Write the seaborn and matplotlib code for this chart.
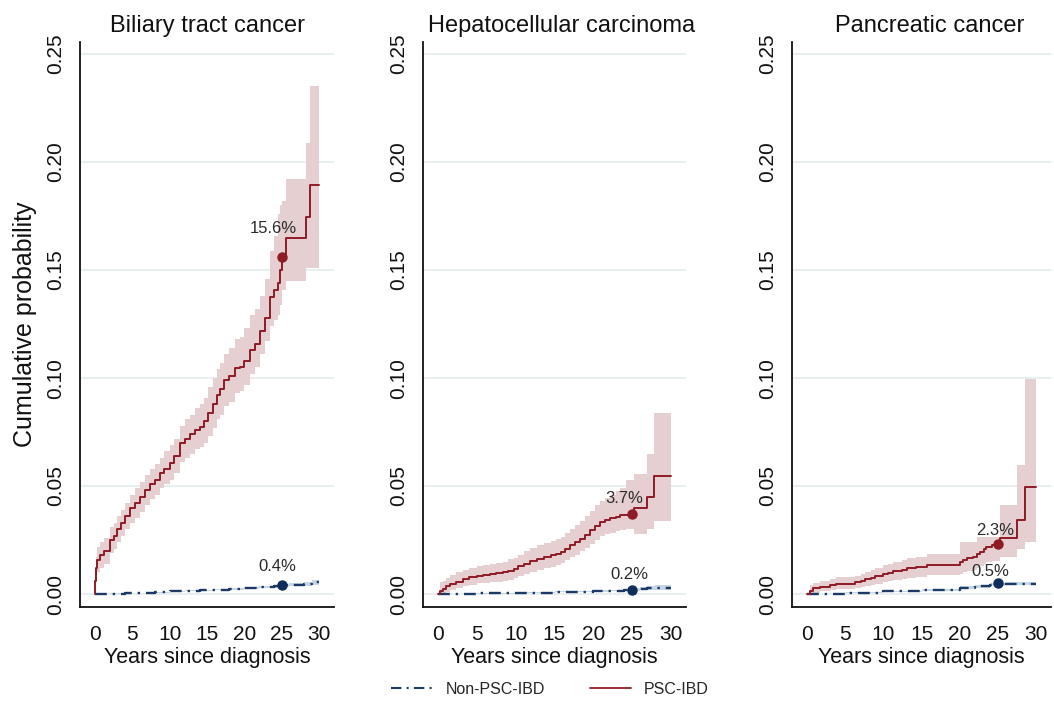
import matplotlib
matplotlib.use("Agg")
import matplotlib.pyplot as plt
from matplotlib.lines import Line2D
import numpy as np
import pandas as pd
import seaborn as sns

# ---------------- data ----------------
titles = ["Biliary tract cancer", "Hepatocellular carcinoma", "Pancreatic cancer"]

# Panel 1: Biliary tract cancer
bil_psc_t = [0, 0.05, 0.15, 0.3, 0.7, 1.2, 2.0, 2.5, 3.0, 3.5, 4.0, 4.7, 5.3, 6.0, 6.7, 7.4, 8.0,
             8.7, 9.3, 10.0, 10.6, 11.4, 12.0, 12.7, 13.4, 14.0, 14.6, 15.2, 15.8, 16.3, 16.7,
             17.3, 17.9, 18.7, 19.4, 20.0, 20.7, 21.4, 22.1, 22.7, 23.4, 24.0, 24.5, 24.8, 25.0,
             25.6, 28.2, 28.8, 30.0]
bil_psc_est = [0.0, 0.006, 0.012, 0.0157, 0.018, 0.020, 0.025, 0.027, 0.030, 0.033, 0.036, 0.040,
               0.042, 0.045, 0.048, 0.051, 0.053, 0.056, 0.058, 0.0606, 0.064, 0.0698, 0.072, 0.074,
               0.076, 0.0775, 0.080, 0.084, 0.088, 0.092, 0.095, 0.099, 0.101, 0.1045, 0.105, 0.108,
               0.113, 0.116, 0.122, 0.128, 0.1376, 0.141, 0.144, 0.150, 0.156, 0.1648, 0.1747,
               0.1894, 0.1894]
bil_psc_lo = [0.0, 0.002, 0.007, 0.010, 0.012, 0.014, 0.019, 0.021, 0.024, 0.027, 0.030, 0.033,
              0.035, 0.038, 0.041, 0.044, 0.046, 0.049, 0.051, 0.053, 0.056, 0.061, 0.063, 0.065,
              0.067, 0.068, 0.070, 0.073, 0.077, 0.081, 0.083, 0.087, 0.089, 0.093, 0.094, 0.097,
              0.102, 0.105, 0.111, 0.117, 0.124, 0.127, 0.129, 0.134, 0.141, 0.145, 0.151, 0.151,
              0.151]
bil_psc_hi = [0.0, 0.010, 0.017, 0.022, 0.024, 0.026, 0.031, 0.033, 0.036, 0.039, 0.042, 0.046,
              0.049, 0.052, 0.055, 0.058, 0.060, 0.063, 0.066, 0.069, 0.072, 0.078, 0.081, 0.083,
              0.086, 0.088, 0.091, 0.096, 0.100, 0.104, 0.107, 0.111, 0.114, 0.118, 0.119, 0.123,
              0.129, 0.132, 0.138, 0.146, 0.159, 0.166, 0.176, 0.180, 0.182, 0.192, 0.209, 0.235,
              0.235]
bil_non_t = [0, 2, 4, 6, 8, 10, 12, 14, 16, 18, 20, 22, 24, 25, 26, 28, 29, 30]
bil_non_est = [0.0, 0.0002, 0.0004, 0.0006, 0.0009, 0.0012, 0.0015, 0.0018, 0.0021, 0.0024,
               0.0027, 0.0031, 0.0036, 0.0040, 0.0043, 0.0048, 0.0054, 0.0054]
bil_non_lo = [0.0, 0.0001, 0.0003, 0.0005, 0.0007, 0.0010, 0.0012, 0.0015, 0.0018, 0.0020,
              0.0023, 0.0026, 0.0030, 0.0033, 0.0035, 0.0039, 0.0043, 0.0043]
bil_non_hi = [0.0, 0.0003, 0.0005, 0.0007, 0.0011, 0.0014, 0.0018, 0.0021, 0.0024, 0.0028,
              0.0031, 0.0036, 0.0042, 0.0047, 0.0051, 0.0057, 0.0066, 0.0066]

# Panel 2: Hepatocellular carcinoma
hcc_psc_t = [0, 0.2, 0.6, 1.0, 1.5, 2.3, 3.2, 4.0, 5.0, 5.8, 6.7, 7.5, 8.4, 9.0, 9.7, 10.3, 11.0,
             11.8, 12.7, 13.6, 14.5, 15.2, 15.8, 16.4, 17.0, 17.6, 18.3, 19.0, 19.6, 20.3, 20.9,
             21.5, 22.2, 23.0, 23.5, 24.3, 25.3, 27.0, 27.8, 30.0]
hcc_psc_est = [0.0, 0.0016, 0.0023, 0.0035, 0.0047, 0.0058, 0.0070, 0.0078, 0.0085, 0.0090,
               0.0093, 0.0097, 0.0100, 0.0108, 0.0116, 0.0128, 0.0140, 0.0152, 0.0163, 0.0171,
               0.0179, 0.0186, 0.0194, 0.0210, 0.0225, 0.0240, 0.0256, 0.0275, 0.0295, 0.0315,
               0.0334, 0.0342, 0.0350, 0.0358, 0.0365, 0.0368, 0.0400, 0.0450, 0.0547, 0.0547]
hcc_psc_lo = [0.0, 0.0002, 0.0005, 0.0010, 0.0018, 0.0027, 0.0036, 0.0043, 0.0049, 0.0053,
              0.0055, 0.0058, 0.0060, 0.0066, 0.0073, 0.0083, 0.0094, 0.0104, 0.0113, 0.0120,
              0.0127, 0.0133, 0.0142, 0.0156, 0.0170, 0.0183, 0.0198, 0.0215, 0.0233, 0.0252,
              0.0270, 0.0277, 0.0284, 0.0292, 0.0298, 0.0300, 0.0280, 0.0300, 0.0340, 0.0340]
hcc_psc_hi = [0.0, 0.0055, 0.0062, 0.0076, 0.0088, 0.0100, 0.0113, 0.0122, 0.0130, 0.0136,
              0.0140, 0.0145, 0.0150, 0.0160, 0.0169, 0.0183, 0.0198, 0.0212, 0.0225, 0.0235,
              0.0245, 0.0254, 0.0264, 0.0283, 0.0300, 0.0318, 0.0338, 0.0361, 0.0385, 0.0410,
              0.0432, 0.0445, 0.0460, 0.0478, 0.0492, 0.0530, 0.0556, 0.0650, 0.0840, 0.0840]
hcc_non_t = [0, 5, 10, 15, 20, 22, 24, 25, 26, 27, 28, 30]
hcc_non_est = [0.0, 0.0003, 0.0006, 0.0010, 0.0014, 0.0016, 0.0018, 0.0020, 0.0024, 0.0028,
               0.0030, 0.0030]
hcc_non_lo = [0.0, 0.0002, 0.0004, 0.0008, 0.0011, 0.0012, 0.0014, 0.0015, 0.0018, 0.0020,
              0.0018, 0.0018]
hcc_non_hi = [0.0, 0.0004, 0.0008, 0.0012, 0.0017, 0.0020, 0.0023, 0.0026, 0.0031, 0.0036,
              0.0040, 0.0040]

# Panel 3: Pancreatic cancer
pan_psc_t = [0, 0.3, 0.7, 1.7, 3.0, 3.8, 6.3, 7.0, 7.6, 8.4, 8.9, 10.0, 10.6, 11.3, 12.4, 13.1,
             14.3, 15.7, 20.0, 20.4, 21.0, 21.8, 22.3, 22.7, 23.2, 23.5, 24.2, 25.0, 25.3, 27.5,
             28.6, 30.0]
pan_psc_est = [0.0, 0.0015, 0.0026, 0.0034, 0.0042, 0.0048, 0.0055, 0.0060, 0.0068, 0.0075,
               0.0083, 0.0093, 0.0098, 0.0105, 0.0112, 0.0119, 0.0123, 0.0134, 0.0148, 0.0157,
               0.0165, 0.0173, 0.0185, 0.0196, 0.0208, 0.0220, 0.0228, 0.0231, 0.0258, 0.0343,
               0.0494, 0.0494]
pan_psc_lo = [0.0, 0.0002, 0.0007, 0.0012, 0.0018, 0.0022, 0.0027, 0.0031, 0.0037, 0.0042,
              0.0048, 0.0056, 0.0060, 0.0065, 0.0070, 0.0076, 0.0079, 0.0087, 0.0095, 0.0101,
              0.0107, 0.0113, 0.0122, 0.0130, 0.0139, 0.0148, 0.0153, 0.0155, 0.0170, 0.0210,
              0.0240, 0.0240]
pan_psc_hi = [0.0, 0.0040, 0.0052, 0.0060, 0.0070, 0.0077, 0.0085, 0.0092, 0.0102, 0.0111,
              0.0121, 0.0133, 0.0139, 0.0147, 0.0156, 0.0165, 0.0170, 0.0184, 0.0242, 0.0242,
              0.0242, 0.0242, 0.0265, 0.0265, 0.0265, 0.0265, 0.0265, 0.0265, 0.0410, 0.0597,
              0.0994, 0.0994]
pan_non_t = [0, 5, 10, 15, 20, 22, 24, 25, 26, 30]
pan_non_est = [0.0, 0.0006, 0.0012, 0.0020, 0.0030, 0.0036, 0.0042, 0.0045, 0.0048, 0.0048]
pan_non_lo = [0.0, 0.0004, 0.0009, 0.0016, 0.0025, 0.0030, 0.0035, 0.0038, 0.0040, 0.0040]
pan_non_hi = [0.0, 0.0008, 0.0015, 0.0024, 0.0035, 0.0042, 0.0049, 0.0052, 0.0056, 0.0056]

# 25-year estimates shown as dots with labels
mark_year = 25
psc_25 = [0.156, 0.037, 0.023]
non_25 = [0.004, 0.002, 0.005]
psc_25_lab = ["15.6%", "3.7%", "2.3%"]
non_25_lab = ["0.4%", "0.2%", "0.5%"]

yticks = [0.00, 0.05, 0.10, 0.15, 0.20, 0.25]
xticks = [0, 5, 10, 15, 20, 25, 30]
group_names = ["Non-PSC-IBD", "PSC-IBD"]

# ---------------- style ----------------
sns.set_theme(style="white")
plt.rcParams["font.family"] = ["Liberation Sans", "DejaVu Sans"]

RED = "#8e1b25"
RED_BAND = "#e5cfd0"
BLUE = "#1d3a66"
BLUE_BAND = "#c6d6e6"
GRID = "#e3eced"

fig = plt.figure(figsize=(10.54, 7.04), dpi=100)
W, H = 1054.0, 704.0
ax_px = [(80, 254), (423, 263), (792, 259)]
top_px, bot_px = 42, 607
title_x = [0.5, 0.525, 0.533]
psc_off = [(-8, 24), (-8, 11), (-3, 9)]
non_off = [(-4, 14), (-2, 11), (-7, 7)]

panels = [
    (bil_psc_t, bil_psc_est, bil_psc_lo, bil_psc_hi, bil_non_t, bil_non_est, bil_non_lo, bil_non_hi),
    (hcc_psc_t, hcc_psc_est, hcc_psc_lo, hcc_psc_hi, hcc_non_t, hcc_non_est, hcc_non_lo, hcc_non_hi),
    (pan_psc_t, pan_psc_est, pan_psc_lo, pan_psc_hi, pan_non_t, pan_non_est, pan_non_lo, pan_non_hi),
]

for i, (pt, pe, pl, ph, nt, ne, nl, nh) in enumerate(panels):
    left, width = ax_px[i]
    ax = fig.add_axes([left / W, 1 - bot_px / H, width / W, (bot_px - top_px) / H])

    ax.set_xlim(-2, 32)
    ax.set_ylim(-0.006, 0.2556)
    ax.set_yticks(yticks)
    ax.set_xticks(xticks)
    ax.yaxis.grid(True, color=GRID, lw=1.2, zorder=0)
    ax.xaxis.grid(False)
    ax.set_axisbelow(True)

    # confidence bands
    ax.fill_between(pt, pl, ph, step="post", color=RED_BAND, lw=0, zorder=1)
    ax.fill_between(nt, nl, nh, step="post", color=BLUE_BAND, lw=0, zorder=1.5)

    dpsc = pd.DataFrame({"t": pt, "est": pe})
    dnon = pd.DataFrame({"t": nt, "est": ne})
    sns.lineplot(data=dnon, x="t", y="est", ax=ax, color=BLUE, lw=1.7,
                 linestyle=(0, (5, 2.5, 1, 2.5)), drawstyle="steps-post",
                 estimator=None, sort=False, zorder=3)
    sns.lineplot(data=dpsc, x="t", y="est", ax=ax, color=RED, lw=1.4,
                 drawstyle="steps-post", estimator=None, sort=False, zorder=4)

    # 25-year dots
    ax.plot([mark_year], [psc_25[i]], "o", color=RED, ms=6.5, zorder=5)
    ax.plot([mark_year], [non_25[i]], "o", color="#0f2b5a", ms=6.5, zorder=5)
    ax.annotate(psc_25_lab[i], (mark_year, psc_25[i]), xytext=psc_off[i],
                textcoords="offset pixels", ha="center", va="baseline",
                fontsize=12, color="#2b2b2b", zorder=6)
    ax.annotate(non_25_lab[i], (mark_year, non_25[i]), xytext=non_off[i],
                textcoords="offset pixels", ha="center", va="baseline",
                fontsize=12, color="#2b2b2b", zorder=6)

    ax.yaxis.set_major_formatter(matplotlib.ticker.FormatStrFormatter("%.2f"))
    for s in ["top", "right"]:
        ax.spines[s].set_visible(False)
    for s in ["left", "bottom"]:
        ax.spines[s].set_color("#111111")
        ax.spines[s].set_linewidth(1.3)
    ax.tick_params(axis="both", direction="out", length=6, width=1.2, color="#111111",
                   labelsize=15, labelcolor="#111111")
    ax.tick_params(axis="x", pad=7)
    ax.tick_params(axis="y", pad=5)
    for lab in ax.get_yticklabels():
        lab.set_rotation(90)
        lab.set_va("center")

    ax.set_title(titles[i], fontsize=17, pad=7, x=title_x[i], color="#111111")
    ax.set_xlabel("Years since diagnosis", fontsize=15.5, labelpad=2, color="#111111")
    if i == 0:
        ax.set_ylabel("Cumulative probability", fontsize=18, labelpad=6, color="#111111")
    else:
        ax.set_ylabel("")

handles = [
    Line2D([0], [0], color=BLUE, lw=1.5, linestyle=(0, (5, 2.5, 1, 2.5))),
    Line2D([0], [0], color=RED, lw=1.3),
]
fig.legend(handles, group_names, loc="center", bbox_to_anchor=(550 / W, 1 - 689 / H),
           ncol=2, frameon=False, fontsize=11.5, handlelength=2.6, columnspacing=2.8,
           handletextpad=0.8)

fig.savefig("out.png", dpi=100)
